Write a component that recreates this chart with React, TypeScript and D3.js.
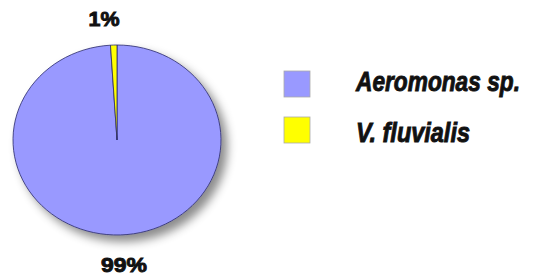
import * as d3 from "d3";
import React, { useEffect, useRef } from "react";

const categories = ["Aeromonas sp.", "V. fluvialis"];
const values = [99, 1];
const colors = ["#9999FF", "#FFFF00"];
const labels = ["99%", "1%"];

export default function App() {
  const svgRef = useRef<SVGSVGElement>(null);

  useEffect(() => {
    const svg = d3.select(svgRef.current);
    const width = 533;
    const height = 277;
    svg.selectAll("*").remove();

    svg.append("rect").attr("width", width).attr("height", height).attr("fill", "#fff");

    const defs = svg.append("defs");
    const f = defs
      .append("filter")
      .attr("id", "shadow")
      .attr("x", "-20%")
      .attr("y", "-20%")
      .attr("width", "150%")
      .attr("height", "150%");
    f.append("feDropShadow")
      .attr("dx", 6)
      .attr("dy", 7)
      .attr("stdDeviation", 5)
      .attr("flood-color", "#000")
      .attr("flood-opacity", 0.45);

    const cx = 117;
    const cy = 140;
    const rx = 104;
    const ry = 95;

    const pie = d3.pie<number>().sort(null).value((d) => d);
    const arcs = pie(values);
    const arc = d3.arc<d3.PieArcDatum<number>>().innerRadius(0).outerRadius(rx);

    const g = svg
      .append("g")
      .attr("transform", `translate(${cx},${cy}) scale(1,${ry / rx})`)
      .attr("filter", "url(#shadow)");

    g.selectAll("path")
      .data(arcs)
      .join("path")
      .attr("d", arc)
      .attr("fill", (_, i) => colors[i])
      .attr("stroke", "#2a2a6a")
      .attr("stroke-width", 0.8)
      .attr("vector-effect", "non-scaling-stroke");

    // squeeze a text horizontally to a target width, keeping its left edge
    function fitWidth(sel: d3.Selection<SVGTextElement, any, any, any>, x: number, y: number, w: number) {
      const natural = sel.node()!.getComputedTextLength();
      const sx = natural > 0 ? w / natural : 1;
      sel.attr("transform", `translate(${x},${y}) scale(${sx},1)`);
    }

    // percentage labels
    const labelPos = [
      [124, 272, 46],
      [104, 26, 31],
    ];
    labels.forEach((lab, i) => {
      const t = svg
        .append("text")
        .attr("font-family", "Liberation Sans, Arial, sans-serif")
        .attr("font-weight", "bold")
        .attr("font-size", 20)
        .attr("fill", "#111")
        .attr("stroke", "#111")
        .attr("stroke-width", 0.9)
        .text(lab);
      const [px, py, pw] = labelPos[i];
      fitWidth(t, px - pw / 2, py, pw);
    });

    // legend
    const legendY = d3.scaleBand<string>().domain(categories).range([71, 163]);
    const textWidths = [164, 114];
    const textOffsets = [20, 25];

    categories.forEach((cat, i) => {
      const y0 = legendY(cat)!;
      svg
        .append("rect")
        .attr("x", 284)
        .attr("y", y0)
        .attr("width", 26)
        .attr("height", 26)
        .attr("fill", colors[i])
        .attr("stroke", "#aaa")
        .attr("stroke-width", 0.8);

      const t = svg
        .append("text")
        .attr("font-family", "Liberation Sans, Arial, sans-serif")
        .attr("font-weight", "bold")
        .attr("font-style", "italic")
        .attr("font-size", 27)
        .attr("fill", "#111")
        .attr("stroke", "#111")
        .attr("stroke-width", 0.9)
        .text(cat);
      fitWidth(t, 356, y0 + textOffsets[i], textWidths[i]);
    });
  }, []);

  return (
    <svg
      ref={svgRef}
      width={533}
      height={277}
      style={{ position: "absolute", left: 0, top: 0 }}
    ></svg>
  );
}
